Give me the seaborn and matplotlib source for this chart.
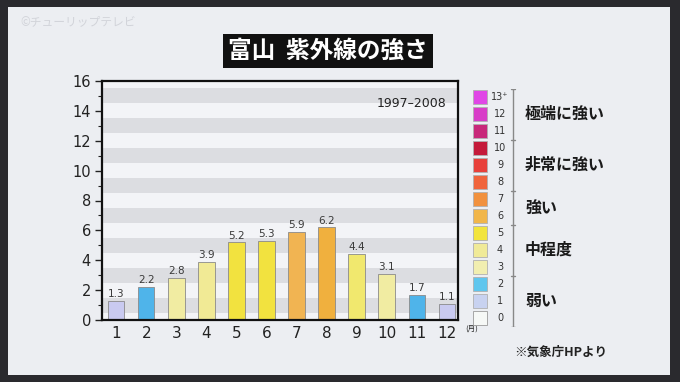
import matplotlib
matplotlib.use("Agg")
import matplotlib.pyplot as plt
import seaborn as sns
import pandas as pd
from matplotlib.patches import Rectangle

# ---- data ----
months = [str(m) for m in range(1, 13)]
uv_index = [1.3, 2.2, 2.8, 3.9, 5.2, 5.3, 5.9, 6.2, 4.4, 3.1, 1.7, 1.1]
bar_colors = ["#c9caf0", "#4fb4ea", "#f1eca2", "#f1ea95", "#f2e23f", "#f2e23f",
              "#f1b452", "#f0b03e", "#f1e86e", "#f1eca2", "#4fb4ea", "#c9caf0"]
y_ticks = [0, 2, 4, 6, 8, 10, 12, 14, 16]
legend_levels = ["0", "1", "2", "3", "4", "5", "6", "7", "8", "9", "10", "11", "12", "13⁺"]
legend_colors = ["#f6f8f6", "#c8d2f0", "#5fc6ee", "#f1eeb0", "#f0ea98", "#f2e43c",
                 "#f1b64a", "#f1913e", "#f0643c", "#e8403a", "#c41a3a", "#c8287a",
                 "#d83cc8", "#e046e6"]
level_groups = [("弱い", 0, 2), ("中程度", 3, 5), ("強い", 6, 7),
                ("非常に強い", 8, 10), ("極端に強い", 11, 13)]
title = "富山  紫外線の強さ"
period = "1997–2008"
source = "※気象庁HPより"
watermark = "©チューリップテレビ"

sns.set_theme(style="white")
plt.rcParams["font.family"] = ["Noto Sans CJK JP", "DejaVu Sans"]

W, H = 680, 382
fig = plt.figure(figsize=(W / 100, H / 100), dpi=100)
fig.patch.set_facecolor("#2a2a2e")
# screen
fig.patches.append(Rectangle((8 / W, 7 / H), 662 / W, 368 / H, transform=fig.transFigure,
                             facecolor="#eceef2", edgecolor="none", zorder=-10))

def fx(px):
    return px / W

def fy(py):
    return 1 - py / H

# ---- main chart ----
ax = fig.add_axes([fx(102), fy(320), fx(458) - fx(102), fy(81) - fy(320)])
ax.set_facecolor("#f3f4f7")
for k in range(8):
    ax.axhspan(2 * k + 0.5, 2 * k + 1.5, color="#dcdde1", lw=0, zorder=0)

df = pd.DataFrame({"month": months, "uv": uv_index})
sns.barplot(data=df, x="month", y="uv", hue="month", palette=bar_colors,
            legend=False, width=0.55, edgecolor="#8a8a8a", linewidth=0.6,
            saturation=1, ax=ax, zorder=2)
for i, v in enumerate(uv_index):
    ax.text(i, v + 0.12, f"{v:.1f}", ha="center", va="bottom", fontsize=7.5,
            color="#3a3a3a", family=["DejaVu Sans"])

ax.set_xlim(-0.47, 11.37)
ax.set_ylim(0, 16)
ax.set_yticks(y_ticks)
ax.set_yticks(range(1, 16, 2), minor=True)
ax.set_xlabel("")
ax.set_ylabel("")
ax.tick_params(axis="y", which="major", length=5, width=1, color="#222222",
               labelsize=10.5, pad=3, left=True)
ax.tick_params(axis="y", which="minor", length=3, width=0.8, color="#222222", left=True)
ax.tick_params(axis="x", length=0, labelsize=11, pad=4)
for lab in ax.get_xticklabels() + ax.get_yticklabels():
    lab.set_family("DejaVu Sans")
    lab.set_color("#222222")
for s in ax.spines.values():
    s.set_visible(True)
    s.set_color("#111111")
    s.set_linewidth(1.6)
ax.text(11.0, 14.5, period, ha="right", va="center", fontsize=9,
        color="#222222", family=["DejaVu Sans"])
ax.text(11.6, -0.3, "(月)", ha="left", va="top", fontsize=5.5, color="#222222",
        transform=ax.transData, clip_on=False)

# ---- legend ----
lax = fig.add_axes([fx(470), fy(326.5), fx(640) - fx(470), fy(88.5) - fy(326.5)])
lax.set_xlim(0, 170)
lax.set_ylim(-0.5, 13.5)
lax.axis("off")
for i, (lev, col) in enumerate(zip(legend_levels, legend_colors)):
    lax.add_patch(Rectangle((3, i - 0.42), 14, 0.84, facecolor=col,
                            edgecolor="#9a9a9a" if i == 0 else "#b0b0b0", lw=0.6))
    lax.text(30, i, lev, ha="center", va="center", fontsize=7, color="#333333",
             family=["DejaVu Sans"])
lax.plot([43, 43], [-0.5, 13.5], color="#888888", lw=1)
for b in [-0.5, 2.5, 5.5, 7.5, 10.5, 13.5]:
    lax.plot([41, 45], [b, b], color="#888888", lw=1)
for name, lo, hi in level_groups:
    lax.text(55, (lo + hi) / 2, name, ha="left", va="center", fontsize=11.5,
             fontweight="bold", color="#1a1a1a")

# ---- title & texts ----
fig.text(fx(328), fy(51), title, ha="center", va="center", fontsize=17,
         fontweight="bold", color="white",
         bbox=dict(boxstyle="square,pad=0.22", facecolor="#111111", edgecolor="none"))
fig.text(fx(20), fy(22), watermark, ha="left", va="center", fontsize=8.5,
         color="#d2d4da")
fig.text(fx(514), fy(352), source, ha="left", va="center", fontsize=9,
         fontweight="bold", color="#222222")

fig.savefig("out.png", dpi=100, facecolor=fig.get_facecolor())
